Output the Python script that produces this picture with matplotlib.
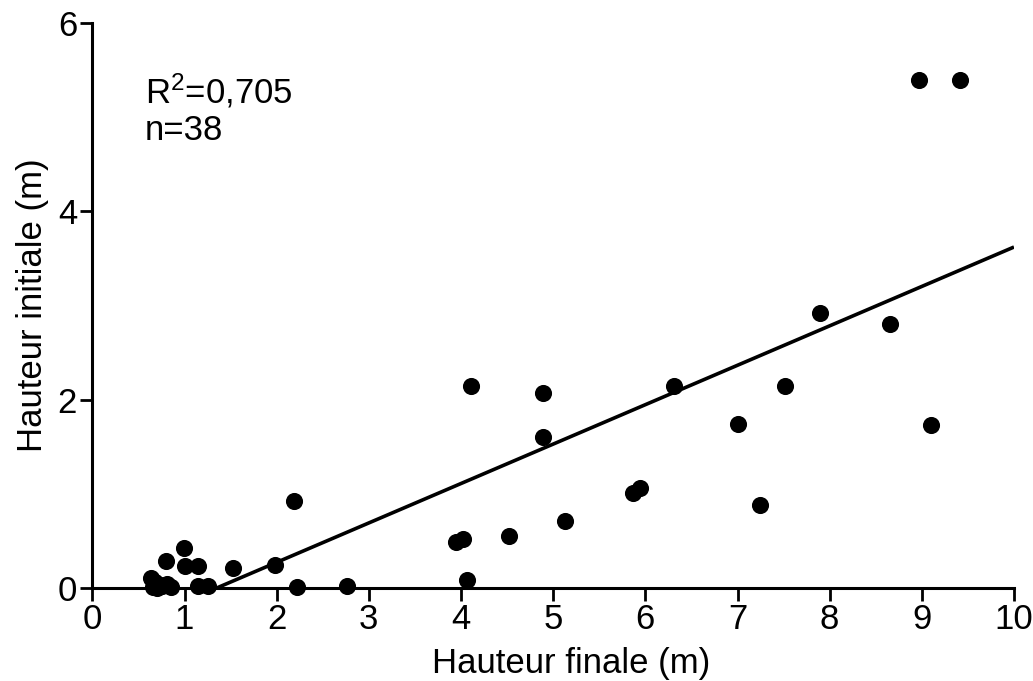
import numpy as np
import matplotlib.pyplot as plt

plt.rcParams['font.family'] = ['Liberation Sans', 'DejaVu Sans']
plt.rcParams['mathtext.fontset'] = 'custom'
plt.rcParams['mathtext.rm'] = 'Liberation Sans'
plt.rcParams['mathtext.it'] = 'Liberation Sans'

# hauteur finale / hauteur initiale (m)
h_finale = [8.97, 9.41, 7.89, 8.66, 6.31, 7.52, 7.00, 9.10, 7.24,
            4.11, 4.89, 4.89, 5.94, 5.87, 5.13, 4.52, 4.02, 3.95, 4.06,
            2.19, 1.98, 2.22, 2.76, 1.53, 0.99, 0.80, 1.00, 1.15, 0.64,
            0.66, 0.73, 0.81, 1.15, 1.26, 0.70, 0.76, 0.85, 0.68]
h_initiale = [5.39, 5.39, 2.92, 2.80, 2.14, 2.14, 1.74, 1.73, 0.88,
              2.15, 2.07, 1.60, 1.06, 1.01, 0.71, 0.55, 0.52, 0.49, 0.09,
              0.92, 0.24, 0.01, 0.02, 0.21, 0.42, 0.29, 0.23, 0.23, 0.11,
              0.01, 0.03, 0.04, 0.02, 0.02, 0.00, 0.02, 0.01, 0.06]

# droite de regression
pente = 0.4186
ordonnee = -0.565
r2 = "0,705"

fig = plt.figure(figsize=(10.33, 6.81), dpi=100)
ax = fig.add_axes([0.0894, 0.1366, 0.8922, 0.8296])

x = np.array(h_finale)
y = np.array(h_initiale)
ax.plot(x, y, 'o', color='black', markersize=11.3, clip_on=False, zorder=3)

x0 = -ordonnee / pente
xl = np.array([x0, 10])
ax.plot(xl, pente * xl + ordonnee, color='black', lw=2.6, solid_capstyle='butt')

ax.set_xlim(0, 10)
ax.set_ylim(0, 6)
ax.set_xticks(range(0, 11))
ax.set_yticks([0, 2, 4, 6])
for s in ['top', 'right']:
    ax.spines[s].set_visible(False)
for s in ['left', 'bottom']:
    ax.spines[s].set_linewidth(2.2)
ax.tick_params(direction='out', length=9, width=2, labelsize=25, pad=2)

ax.set_xlabel('Hauteur finale (m)', fontsize=25)
ax.xaxis.set_label_coords(0.52, -0.105)
ax.set_ylabel('Hauteur initiale (m)', fontsize=25, labelpad=6)

ax.text(0.57, 5.15, 'R$^{2}$=' + r2, fontsize=25)
ax.text(0.57, 4.76, 'n=%d' % len(h_finale), fontsize=25)

fig.savefig('out.png', dpi=100)
